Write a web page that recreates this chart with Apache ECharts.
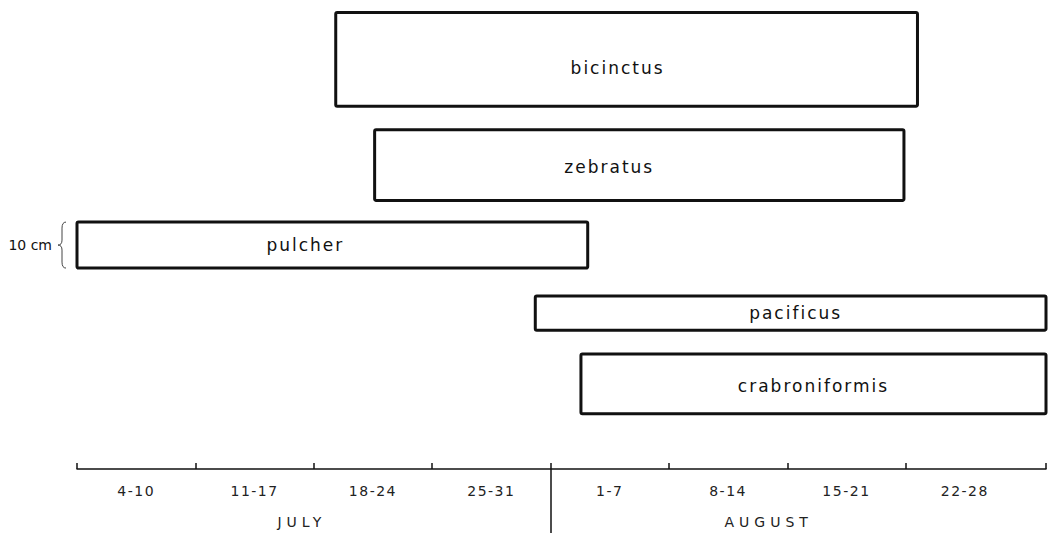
<!DOCTYPE html>
<html>
<head>
<meta charset="utf-8">
<script src="https://cdn.jsdelivr.net/npm/echarts@6/dist/echarts.min.js"></script>
<style>
  html, body { margin: 0; padding: 0; background: #fff; }
  #chart { width: 1048px; height: 533px; }
</style>
</head>
<body>
<div id="chart"></div>
<script>
// Flight seasons: start/end in days counted from 4 July, box height in cm
const species = ['bicinctus', 'zebratus', 'pulcher', 'pacificus', 'crabroniformis'];
const startDay = [15.3, 17.6, 0, 27.1, 29.8];
const endDay = [49.7, 48.9, 30.2, 57.3, 57.3];
const heightCm = [20.4, 15.4, 10, 7.4, 13];

// Week boundaries (days from 4 July) and their labels
const weekTicks = [0, 7, 14, 21, 28, 35, 42, 49, 57.3];
const weekLabels = ['4-10', '11-17', '18-24', '25-31', '1-7', '8-14', '15-21', '22-28'];
const monthLabels = ['JULY', 'AUGUST'];
const monthBreak = 28;
const scaleBarCm = 10;

// Layout: rows stacked from the axis upward (bottom row first), vertical gaps in cm
const stackOrder = [4, 3, 2, 1, 0];
const stackGaps = [12, 5.2, 6.1, 4.7, 5.1];
const labelShift = [[-9, 9], [-30, 2], [-27, 0], [5, 0], [0, 2]];
const monthLabelAt = [13.3, 40.9];

const bottomCm = [];
let level = 0;
stackOrder.forEach((idx, k) => {
  level += stackGaps[k];
  bottomCm[idx] = level;
  level += heightCm[idx];
});

const FONT = '"DejaVu Sans", sans-serif';
const weekCenters = weekLabels.map((_, i) => (weekTicks[i] + Math.min(weekTicks[i + 1], weekTicks[i] + 7)) / 2);

const boxData = species.map((name, i) => [i, startDay[i], endDay[i], bottomCm[i], heightCm[i]]);
const pulcherIdx = species.indexOf('pulcher');

const chart = echarts.init(document.getElementById('chart'), null, { renderer: 'svg' });
chart.setOption({
  animation: false,
  backgroundColor: '#fff',
  grid: { left: 77, right: 2, top: 0, bottom: 64 },
  xAxis: [
    {
      type: 'value', min: 0, max: 57.3,
      splitLine: { show: false },
      axisLine: { show: true, lineStyle: { color: '#111', width: 1.5 } },
      axisTick: { show: true, inside: true, length: 6, customValues: weekTicks, lineStyle: { color: '#111', width: 1.5 } },
      axisLabel: {
        customValues: weekCenters, margin: 15, color: '#222', fontSize: 14, fontFamily: FONT,
        formatter: v => weekLabels[Math.floor(v / 7)]
      }
    },
    {
      type: 'value', min: 0, max: 57.3, position: 'bottom',
      splitLine: { show: false },
      axisLine: { show: false },
      axisTick: { show: true, inside: false, length: 64, customValues: [monthBreak], lineStyle: { color: '#111', width: 1.5 } },
      axisLabel: {
        customValues: monthLabelAt, margin: 46, color: '#222', fontSize: 14, fontFamily: FONT,
        formatter: v => monthLabels[v < monthBreak ? 0 : 1]
      }
    }
  ],
  yAxis: { type: 'value', min: 0, max: 102, show: false },
  series: [
    {
      type: 'custom',
      clip: false,
      data: boxData,
      renderItem: (params, api) => {
        const i = api.value(0);
        const p0 = api.coord([api.value(1), api.value(3) + api.value(4)]);
        const p1 = api.coord([api.value(2), api.value(3)]);
        const sh = labelShift[i];
        return {
          type: 'group',
          children: [
            {
              type: 'rect',
              shape: { x: p0[0], y: p0[1], width: p1[0] - p0[0], height: p1[1] - p0[1], r: 1.5 },
              style: { fill: '#fff', stroke: '#111', lineWidth: 3 }
            },
            {
              type: 'text',
              x: (p0[0] + p1[0]) / 2 + sh[0],
              y: (p0[1] + p1[1]) / 2 + sh[1],
              style: { text: species[i], fill: '#111', font: '17px ' + FONT, align: 'center', verticalAlign: 'middle' }
            }
          ]
        };
      }
    },
    {
      // 10 cm scale bracket beside the pulcher row
      type: 'custom',
      clip: false,
      data: [[0, bottomCm[pulcherIdx], scaleBarCm]],
      renderItem: (params, api) => {
        const top = api.coord([api.value(0), api.value(1) + api.value(2)]);
        const bot = api.coord([api.value(0), api.value(1)]);
        const xr = top[0] - 11, xc = top[0] - 15, xl = top[0] - 19;
        const t = top[1], b = bot[1], m = (t + b) / 2;
        const d = `M${xr},${t} Q${xc},${t} ${xc},${t + 6} L${xc},${m - 5} Q${xc},${m} ${xl},${m} ` +
                  `Q${xc},${m} ${xc},${m + 5} L${xc},${b - 6} Q${xc},${b} ${xr},${b}`;
        return {
          type: 'group',
          children: [
            { type: 'path', shape: { pathData: d }, style: { fill: 'none', stroke: '#444', lineWidth: 1 } },
            {
              type: 'text', x: xl - 6, y: m,
              style: { text: scaleBarCm + ' cm', fill: '#111', font: '14px ' + FONT, align: 'right', verticalAlign: 'middle' }
            }
          ]
        };
      }
    }
  ]
});

// Hand-lettered look: open up the letter spacing of the drawn labels
const spacing = t => species.includes(t) ? 2 : monthLabels.includes(t) ? 5 : weekLabels.includes(t) ? 1.5 : 0;
document.querySelectorAll('#chart svg text').forEach(el => {
  const s = spacing(el.textContent.trim());
  if (s) el.setAttribute('letter-spacing', s + 'px');
});
</script>
</body>
</html>
